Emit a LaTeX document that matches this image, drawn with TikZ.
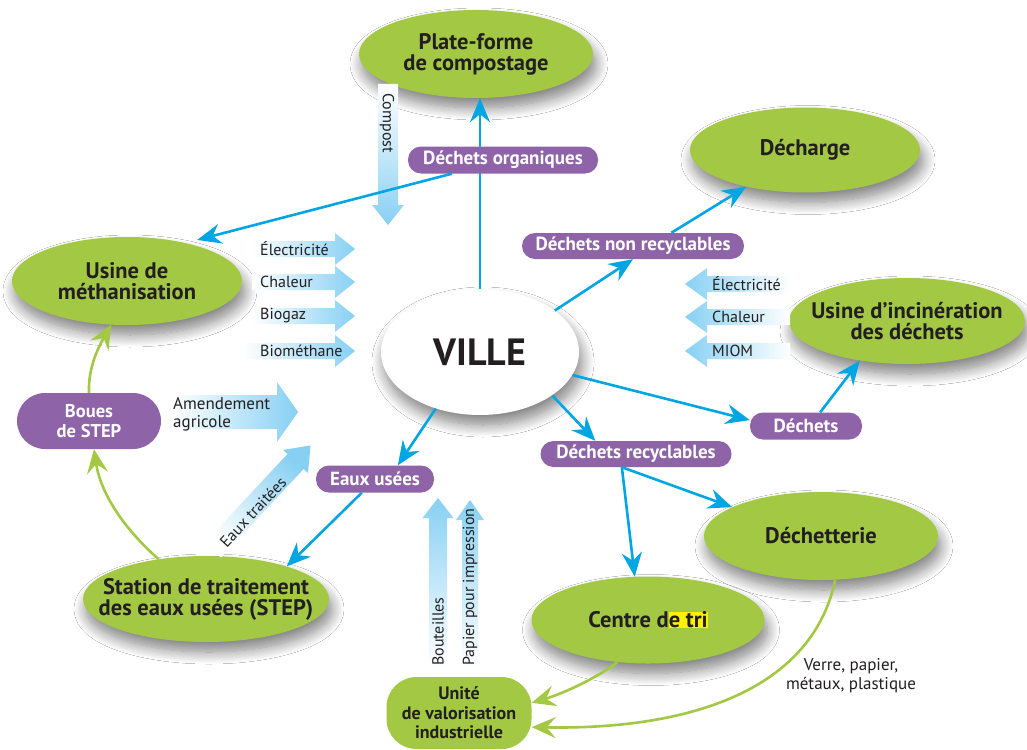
\documentclass[tikz,border=0pt]{standalone}
\usepackage{fontspec}
\setmainfont{PT Sans}
\usetikzlibrary{shapes.geometric,arrows.meta,shadows.blur,calc}
\definecolor{vgreen}{RGB}{163,201,68}
\definecolor{purp}{RGB}{142,99,168}
\definecolor{lblue}{RGB}{135,208,243}
\definecolor{cblue}{RGB}{0,166,228}
\definecolor{tdark}{RGB}{35,31,32}
\definecolor{hl}{RGB}{255,242,0}
\setlength{\fboxsep}{0pt}
\newcommand\fatarr[8]{% x, y, angle, length, shaft hw, head hw, head length, shading
  \begin{scope}[shift={(#1,#2)},rotate=#3]
    \shade[#8]
      (0,-#5) -- ({#4-#7},-#5) -- ({#4-#7},-#6) -- (#4,0) -- ({#4-#7},#6) -- ({#4-#7},#5) -- (0,#5) -- cycle;
  \end{scope}}
\begin{document}
\begin{tikzpicture}[x=1pt,y=-1pt,
  ell/.style={ellipse,fill=vgreen,inner xsep=-40pt,inner ysep=-15pt,align=center,text=tdark,
    font=\bfseries\fontsize{22.5}{21}\selectfont,
    blur shadow={shadow xshift=3pt,shadow yshift=-10pt,shadow blur radius=12pt,shadow blur steps=14,shadow opacity=50}},
  unitebox/.style={rectangle,rounded corners=30pt,fill=vgreen,inner sep=0pt,align=center,text=tdark,
    font=\bfseries\fontsize{18}{19.5}\selectfont},
  pill/.style={rectangle,rounded corners=13pt,fill=purp,text=white,inner sep=0pt,minimum height=27pt,
    font=\bfseries\fontsize{19}{20}\selectfont},
  conn/.style={draw=cblue,line width=2.6pt,-{Stealth[length=24pt,width=20pt,inset=8pt]}},
  gconn/.style={draw=vgreen,line width=2.6pt,-{Stealth[length=24pt,width=21pt,inset=9pt]}},
  lab/.style={text=tdark,font=\fontsize{16}{18}\selectfont,inner sep=0pt},
  toright/.style={left color=white,right color=lblue},
  toleft/.style={left color=lblue,right color=white},
]
\useasboundingbox (0,0) rectangle (1027,749);
\fill[white] (0,0) rectangle (1027,749);

% ellipses
\node[ell,minimum width=234pt,minimum height=88pt] (comp) at (476,54) {Plate-forme\\de compostage};
\node[ell,minimum width=230pt,minimum height=85pt] (decharge) at (805,150) {Décharge};
\node[ell,minimum width=230pt,minimum height=88pt] (meth) at (127,281) {Usine de\\méthanisation};
\node[ell,minimum width=236pt,minimum height=86pt] (incin) at (907,321) {Usine d’incinération\\des déchets};
\node[ell,minimum width=246pt,minimum height=86pt] (station) at (206,599) {Station de traitement\\des eaux usées (STEP)};
\node[ell,minimum width=234pt,minimum height=88pt] (dechetterie) at (821,536) {Déchetterie};
\node[ell,minimum width=233pt,minimum height=87pt] (tri) at (648,620) {Centre d\colorbox{hl}{\vphantom{C}e tri}};
\node[ell,fill=white,minimum width=198pt,minimum height=126pt,font=\bfseries\fontsize{38}{40}\selectfont] (ville) at (480,352) {VILLE};
\node[unitebox,minimum width=145pt,minimum height=72pt] (unite) at (459,713) {Unité\\de valorisation\\industrielle};

% fat arrows
\fatarr{388}{84}{-90}{141}{10}{16}{20}{top color=white,bottom color=lblue}
\fatarr{252}{249}{0}{103}{8}{16}{20}{toright}
\fatarr{252}{282}{0}{103}{8}{16}{20}{toright}
\fatarr{252}{316}{0}{103}{8}{16}{20}{toright}
\fatarr{243}{351}{0}{112}{8}{16}{20}{toright}
\fatarr{790}{284}{180}{105}{8}{16}{22}{toleft}
\fatarr{790}{317}{180}{105}{8}{16}{22}{toleft}
\fatarr{790}{351}{180}{105}{8}{16}{22}{toleft}
\fatarr{172}{412}{0}{126}{17}{30}{21}{toright}
\fatarr{213}{550}{47}{143}{11}{17}{22}{top color=lblue,bottom color=white,shading angle=-43}
\fatarr{438}{668}{90}{170}{9}{15.5}{20}{top color=lblue,bottom color=white}
\fatarr{470}{668}{90}{168}{8}{14}{20}{top color=lblue,bottom color=white}

% labels on fat arrows
\node[lab,rotate=-90,anchor=west] (lcompost) at (387,93) {Compost};
\node[lab,anchor=west] (le1) at (260,249) {Électricité};
\node[lab,anchor=west] (le2) at (260,282) {Chaleur};
\node[lab,anchor=west] (le3) at (260,316) {Biogaz};
\node[lab,anchor=west] (le4) at (260,351) {Biométhane};
\node[lab,anchor=west] (re1) at (712,284) {Électricité};
\node[lab,anchor=west] (re2) at (712,317) {Chaleur};
\node[lab,anchor=west] (re3) at (712,351) {MIOM};
\node[lab,anchor=north west,align=left,font=\fontsize{17}{18}\selectfont] (lamend) at (173,397) {Amendement\\agricole};
\node[lab,rotate=47] (ltraitees) at (253,512) {Eaux traitées};
\node[lab,rotate=90,anchor=west] (lbout) at (438,666) {Bouteilles};
\node[lab,rotate=90,anchor=west] (lpap) at (470,666) {Papier pour impression};
\node[lab,align=center,font=\fontsize{17}{19}\selectfont] (lverre) at (851,676) {Verre, papier,\\métaux, plastique};

% line passing under the pill
\draw[conn] (ville.north) -- (ville.north |- comp.south);

% pills
\node[pill,minimum width=190pt] (org) at (503,160) {Déchets organiques};
\node[pill,minimum width=222pt,minimum height=26pt] (nonrec) at (633,246) {Déchets non recyclables};
\node[pill,minimum width=112pt] (dech) at (806,426) {Déchets};
\node[pill,minimum width=191pt,minimum height=26pt] (recyc) at (636,454) {Déchets recyclables};
\node[pill,minimum width=118pt] (eaux) at (375,479) {Eaux usées};
\node[pill,minimum width=144pt,minimum height=56pt,rounded corners=28pt,align=center,font=\bfseries\fontsize{18.5}{20}\selectfont] (boues) at (89,421) {Boues\\de STEP};

% blue connectors
\draw[conn,shorten >=12pt] (org.195) -- (meth.33);
\draw[conn] (ville.29) -- (nonrec.south);
\draw[conn] (nonrec.19) -- (decharge.212);
\draw[conn] (ville.-14) -- (dech.174);
\draw[conn] (dech.44) -- (incin.220);
\draw[conn] (ville.-31) -- (recyc.162);
\draw[conn] (recyc.-137) -- (tri.107);
\draw[conn] (recyc.-137) -- (dechetterie.162);
\draw[conn] (ville.232.5) -- (eaux.31);
\draw[conn] (eaux.226) -- (station.22);

% green connectors
\draw[gconn] (station.140) .. controls (120,525) and (100,490) .. (boues.-80);
\draw[gconn] (boues.north) .. controls (88,368) and (98,348) .. (meth.250);
\draw[gconn] (tri.234) .. controls (600,676) and (565,693) .. (unite.8);
\draw[gconn] (dechetterie.-72) .. controls (812,690) and (690,730) .. (unite.-11);
\end{tikzpicture}
\end{document}
